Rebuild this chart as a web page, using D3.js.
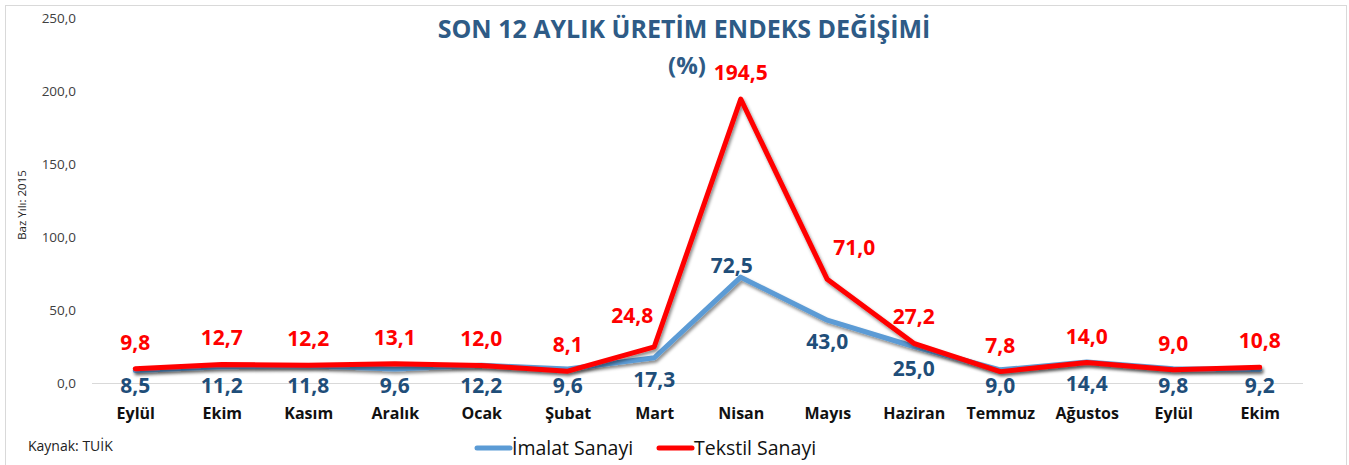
<!DOCTYPE html>
<html>
<head>
<meta charset="utf-8">
<style>
body { margin: 0; background: #fff; }
text { font-family: "Open Sans", sans-serif; }
</style>
</head>
<body></body>
<script src="https://cdn.jsdelivr.net/npm/d3@7"></script>
<script>

var months = ["Eylül", "Ekim", "Kasım", "Aralık", "Ocak", "Şubat", "Mart", "Nisan", "Mayıs", "Haziran", "Temmuz", "Ağustos", "Eylül", "Ekim"];
var imalat = [8.5, 11.2, 11.8, 9.6, 12.2, 9.6, 17.3, 72.5, 43.0, 25.0, 9.0, 14.4, 9.8, 9.2];
var tekstil = [9.8, 12.7, 12.2, 13.1, 12.0, 8.1, 24.8, 194.5, 71.0, 27.2, 7.8, 14.0, 9.0, 10.8];
var yTicks = [0, 50, 100, 150, 200, 250];

var width = 1349, height = 465;
var blue = "#5b9bd5", red = "#ff0000", blueText = "#1f4e79";
var font = "'Open Sans', sans-serif";

var fmt = d => d3.format(".1f")(d).replace(".", ",");
var keys = months.map((m, i) => i);

var x = d3.scalePoint().domain(keys).range([92, 1303]).padding(0.5);
var y = d3.scaleLinear().domain([0, 250]).range([383, 18]);

var svg = d3.select("body").append("svg")
	.attr("width", width)
	.attr("height", height);

var defs = svg.append("defs");
defs.append("filter").attr("id", "shadow")
	.attr("x", "-5%").attr("y", "-20%").attr("width", "110%").attr("height", "140%")
  .append("feDropShadow")
	.attr("dx", 1.5).attr("dy", 2.5).attr("stdDeviation", 1.5)
	.attr("flood-color", "#000").attr("flood-opacity", 0.45);

// frame
svg.append("rect")
	.attr("x", 5.5).attr("y", 5.5)
	.attr("width", 1341).attr("height", 470)
	.attr("fill", "none").attr("stroke", "#d9d9d9");

// title
svg.append("text")
	.attr("x", 684).attr("y", 38)
	.attr("text-anchor", "middle")
	.attr("font-size", 25).attr("font-weight", "bold")
	.attr("fill", "#2e5b86")
	.text("SON 12 AYLIK ÜRETİM ENDEKS DEĞİŞİMİ");
svg.append("text")
	.attr("x", 687).attr("y", 74)
	.attr("text-anchor", "middle")
	.attr("font-size", 24).attr("font-weight", "bold")
	.attr("fill", "#2e5b86")
	.text("(%)");

// y axis
var yAxis = svg.append("g")
	.attr("transform", "translate(76,0)")
	.call(d3.axisLeft(y).tickValues(yTicks).tickFormat(fmt).tickSize(0).tickPadding(0));
yAxis.select(".domain").remove();
yAxis.selectAll("text")
	.attr("font-size", 13.5).attr("fill", "#404040")
	.attr("font-family", font);

// zero line
svg.append("line")
	.attr("x1", 92).attr("x2", 1303)
	.attr("y1", y(0) + 0.5).attr("y2", y(0) + 0.5)
	.attr("stroke", "#d9d9d9");

svg.append("text")
	.attr("transform", "translate(26,205) rotate(-90)")
	.attr("text-anchor", "middle")
	.attr("font-size", 11.5).attr("fill", "#222")
	.text("Baz Yılı: 2015");

// x labels
var xAxis = svg.append("g")
	.attr("transform", "translate(0,419)")
	.call(d3.axisBottom(x).tickFormat(i => months[i]).tickSize(0).tickPadding(0));
xAxis.select(".domain").remove();
xAxis.selectAll("text")
	.attr("dy", 0)
	.attr("font-size", 16).attr("font-weight", "bold").attr("fill", "#111")
	.attr("font-family", font);

var line = d3.line()
	.x((d, i) => x(i))
	.y(d => y(d));

svg.append("path")
	.datum(imalat)
	.attr("fill", "none").attr("stroke", blue).attr("stroke-width", 5)
	.attr("stroke-linejoin", "round").attr("stroke-linecap", "round")
	.attr("filter", "url(#shadow)")
	.attr("d", line);

svg.append("path")
	.datum(tekstil)
	.attr("fill", "none").attr("stroke", red).attr("stroke-width", 5)
	.attr("stroke-linejoin", "round").attr("stroke-linecap", "round")
	.attr("filter", "url(#shadow)")
	.attr("d", line);

// labels: blue below (peak above), red above, nudged sideways off steep segments
var maxBlue = d3.maxIndex(imalat);
svg.append("g").selectAll("text")
	.data(imalat)
	.enter().append("text")
	.attr("x", (d, i) => i == maxBlue ? x(i) - 9 : x(i))
	.attr("y", (d, i) => i == maxBlue ? y(d) - 4 : Math.min(y(d) + 29, 393))
	.attr("text-anchor", "middle")
	.attr("font-size", 21).attr("font-weight", "bold")
	.attr("fill", blueText)
	.text(fmt);

function nudge(arr, i) {
	if (i < arr.length - 1 && arr[i + 1] - arr[i] > 50) return -22;
	if (i > 0 && arr[i - 1] - arr[i] > 50) return 27;
	return 0;
}

svg.append("g").selectAll("text")
	.data(tekstil)
	.enter().append("text")
	.attr("x", (d, i) => x(i) + nudge(tekstil, i))
	.attr("y", (d, i) => y(d) - (nudge(tekstil, i) ? 24 : 19))
	.attr("text-anchor", "middle")
	.attr("font-size", 21).attr("font-weight", "bold")
	.attr("fill", red)
	.text(fmt);

// source
svg.append("text")
	.attr("x", 28).attr("y", 451)
	.attr("font-size", 14).attr("fill", "#222")
	.text("Kaynak: TUİK");

// legend
var legend = [["İmalat Sanayi", blue, 476], ["Tekstil Sanayi", red, 658]];
var lg = svg.append("g").selectAll("g")
	.data(legend)
	.enter().append("g")
	.attr("transform", d => "translate(" + d[2] + ",448)");
lg.append("line")
	.attr("x1", 1).attr("x2", 34)
	.attr("stroke", d => d[1]).attr("stroke-width", 5)
	.attr("stroke-linecap", "round");
lg.append("text")
	.attr("x", 36).attr("dy", "0.36em")
	.attr("font-size", 19.5).attr("fill", "#111")
	.text(d => d[0]);

</script>
</html>
